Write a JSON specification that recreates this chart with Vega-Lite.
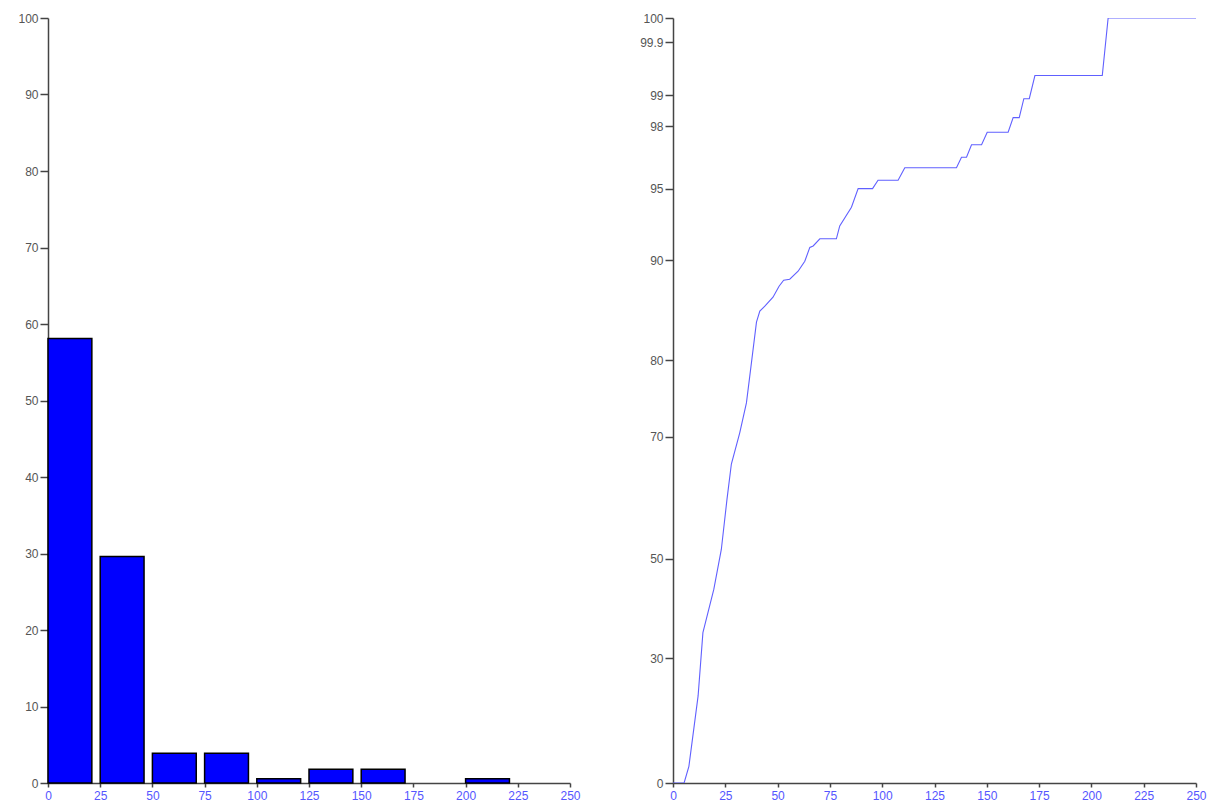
{
  "$schema": "https://vega.github.io/schema/vega-lite/v6.json",
  "padding": {"left": 17, "top": 12, "right": 5, "bottom": 5},
  "background": "white",
  "spacing": 103,
  "bounds": "flush",
  "config": {
    "view": {"stroke": null},
    "font": "Liberation Sans",
    "axis": {
      "grid": false,
      "title": null,
      "domainColor": "#444444",
      "domainWidth": 1.5,
      "tickColor": "#444444",
      "tickWidth": 1.5,
      "labelFont": "Liberation Sans",
      "labelFontSize": 12
    },
    "axisX": {"labelColor": "#5555ff", "tickSize": 4, "labelPadding": 3, "labelFlush": false},
    "axisY": {"labelColor": "#555555", "tickSize": 8, "labelPadding": 2, "labelFlush": false}
  },
  "datasets": {
    "hist": [
      {"start": 0, "end": 21, "pct": 58.1},
      {"start": 25, "end": 46, "pct": 29.6},
      {"start": 50, "end": 71, "pct": 3.9},
      {"start": 75, "end": 96, "pct": 3.9},
      {"start": 100, "end": 121, "pct": 0.56},
      {"start": 125, "end": 146, "pct": 1.8},
      {"start": 150, "end": 171, "pct": 1.8},
      {"start": 200, "end": 221, "pct": 0.56}
    ],
    "cum": [
      {"x": 0, "p": 0},
      {"x": 5.3, "p": 0},
      {"x": 7.6, "p": 4.0},
      {"x": 12.0, "p": 20.9},
      {"x": 14.3, "p": 35.1},
      {"x": 19.5, "p": 43.8},
      {"x": 23.1, "p": 51.5},
      {"x": 25.8, "p": 59.7},
      {"x": 27.9, "p": 65.5},
      {"x": 31.9, "p": 70.5},
      {"x": 35.1, "p": 74.4},
      {"x": 36.7, "p": 77.9},
      {"x": 39.9, "p": 83.8},
      {"x": 41.5, "p": 84.9},
      {"x": 43.9, "p": 85.4},
      {"x": 47.8, "p": 86.3},
      {"x": 50.7, "p": 87.4},
      {"x": 52.9, "p": 88.0},
      {"x": 55.8, "p": 88.1},
      {"x": 59.8, "p": 88.9},
      {"x": 63.0, "p": 89.9},
      {"x": 65.4, "p": 90.9},
      {"x": 67.0, "p": 91.0},
      {"x": 70.2, "p": 91.5},
      {"x": 78.1, "p": 91.5},
      {"x": 79.7, "p": 92.4},
      {"x": 85.3, "p": 93.7},
      {"x": 88.5, "p": 95.0},
      {"x": 95.4, "p": 95.0},
      {"x": 98.0, "p": 95.4},
      {"x": 107.6, "p": 95.4},
      {"x": 110.8, "p": 96.0},
      {"x": 135.5, "p": 96.0},
      {"x": 137.9, "p": 96.5},
      {"x": 140.3, "p": 96.5},
      {"x": 142.7, "p": 97.1},
      {"x": 147.5, "p": 97.1},
      {"x": 150.2, "p": 97.7},
      {"x": 160.2, "p": 97.7},
      {"x": 162.6, "p": 98.27},
      {"x": 165.5, "p": 98.27},
      {"x": 167.7, "p": 98.88},
      {"x": 170.3, "p": 98.88},
      {"x": 173.0, "p": 99.33},
      {"x": 205.2, "p": 99.33},
      {"x": 208.0, "p": 100},
      {"x": 250, "p": 100}
    ]
  },
  "hconcat": [
    {
      "width": 522,
      "height": 765,
      "data": {"name": "hist"},
      "mark": {"type": "bar", "color": "#0000ff", "stroke": "#000000", "strokeWidth": 1.5},
      "encoding": {
        "x": {
          "field": "start", "type": "quantitative",
          "scale": {"domain": [0, 250], "nice": false, "zero": false},
          "axis": {"values": [0, 25, 50, 75, 100, 125, 150, 175, 200, 225, 250]}
        },
        "x2": {"field": "end"},
        "y": {
          "field": "pct", "type": "quantitative",
          "scale": {"domain": [0, 100], "nice": false},
          "axis": {"values": [0, 10, 20, 30, 40, 50, 60, 70, 80, 90, 100]}
        },
        "y2": {"datum": 0}
      }
    },
    {
      "width": 523,
      "height": 765,
      "data": {"name": "cum"},
      "mark": {"type": "line", "color": "#6060ff", "strokeWidth": 1.1, "clip": true},
      "encoding": {
        "x": {
          "field": "x", "type": "quantitative",
          "scale": {"domain": [0, 250], "nice": false, "zero": false},
          "axis": {"values": [0, 25, 50, 75, 100, 125, 150, 175, 200, 225, 250]}
        },
        "y": {
          "field": "p", "type": "quantitative",
          "scale": {
            "domain": [0, 30, 50, 70, 80, 90, 95, 98, 99, 99.9, 100],
            "range": [765, 640, 540.6, 418.6, 342, 242.3, 170.6, 108, 77, 24, 0],
            "nice": false,
            "zero": false
          },
          "axis": {
            "values": [0, 30, 50, 70, 80, 90, 95, 98, 99, 99.9, 100],
            "labelExpr": "'' + datum.value"
          }
        }
      }
    }
  ]
}
